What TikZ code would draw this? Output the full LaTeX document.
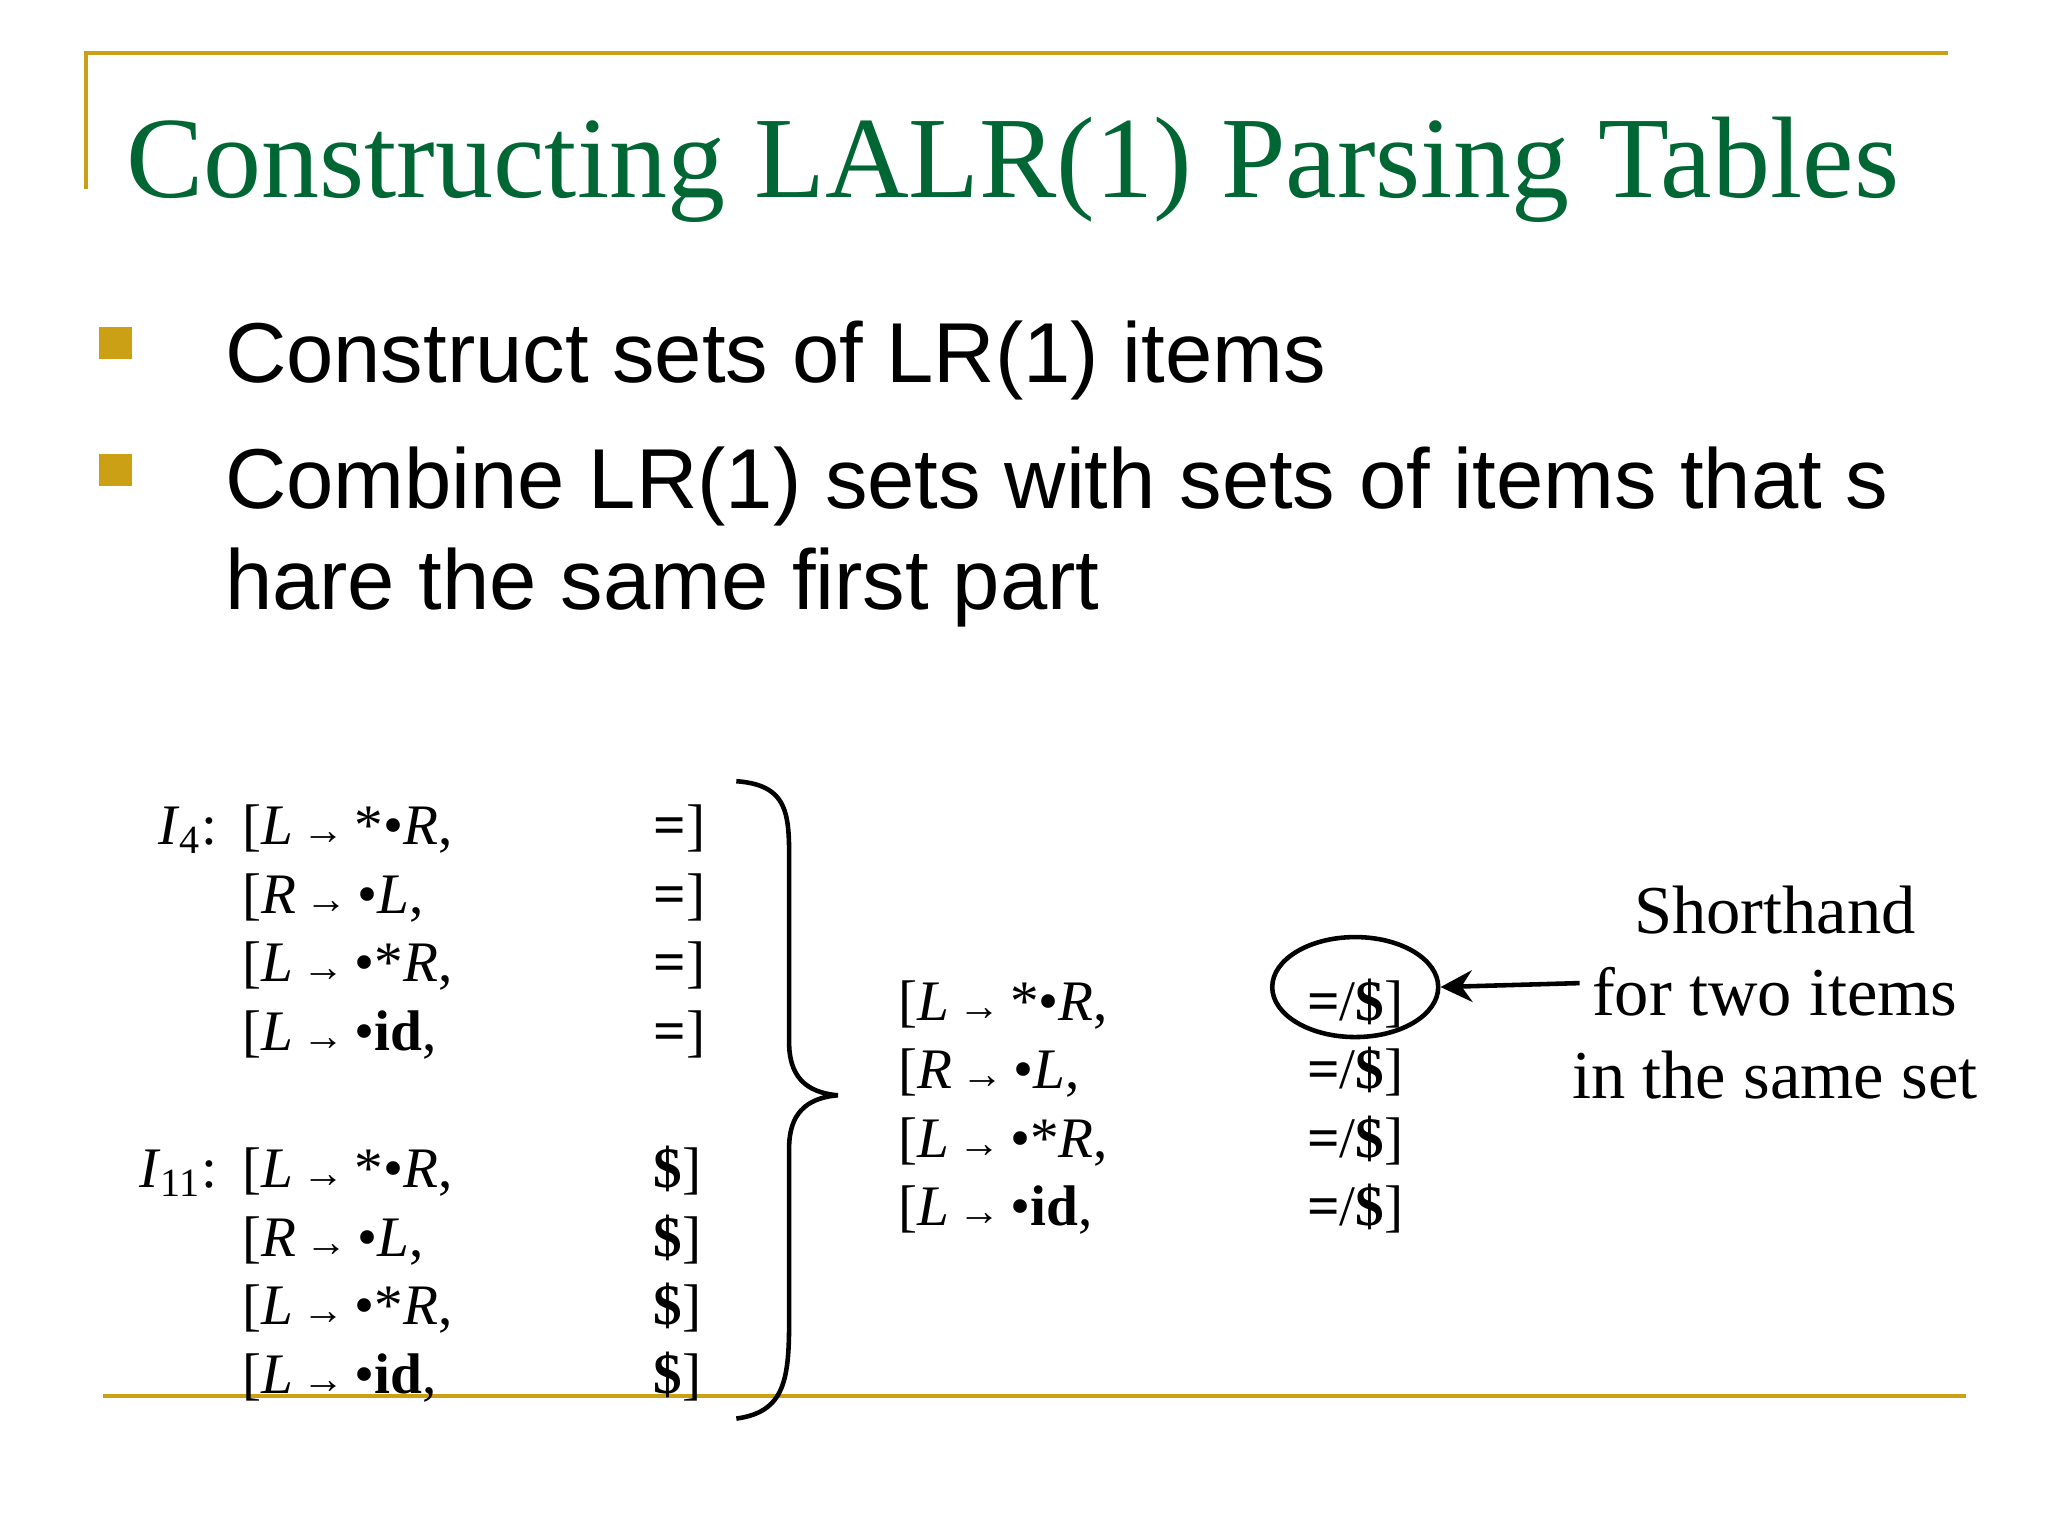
\documentclass[tikz,border=0pt]{standalone}
\usepackage{fontspec}
\setmainfont{Liberation Serif}
\setsansfont{Liberation Sans}
\usetikzlibrary{arrows.meta,shapes.geometric}
\definecolor{gold}{RGB}{204,160,20}
\definecolor{titlegreen}{RGB}{0,102,51}
\tikzset{
  it/.style={anchor=base west,inner sep=0pt,font=\fontsize{16.3}{18}\selectfont},
  bul/.style={anchor=base west,inner sep=0pt,font=\sffamily\fontsize{24.2}{28}\selectfont},
  rule/.style={gold,line width=1.2pt}
}
\newcommand{\ar}{\,{\large →}\,}
\begin{document}
\begin{tikzpicture}[x=0.013196cm,y=-0.013196cm]
\useasboundingbox (0,0) rectangle (1552,1164);
\draw[rule] (65,143) -- (65,40) -- (1476,40);
\draw[rule] (78,1058) -- (1490,1058);
\node[anchor=base west,inner sep=0pt,text=titlegreen,font=\fontsize{33}{38}\selectfont] (title) at (95,150) {Constructing LALR(1) Parsing Tables};
\fill[gold] (75,248) rectangle (100,272);
\fill[gold] (75,344) rectangle (100,368);
\node[bul] (b1) at (170,290) {Construct sets of LR(1) items};
\node[bul] (b2) at (170,385) {Combine LR(1) sets with sets of items that s};
\node[bul] (b3) at (170,462) {hare the same first part};
% I4
\node[it,anchor=base east] (i4) at (165,640) {\textit{I}\textsubscript{4}:};
\node[it] (a1) at (183,640) {[\textit{L}\ar*•\textit{R},};
\node[it] (a2) at (183,692) {[\textit{R}\ar•\textit{L},};
\node[it] (a3) at (183,744) {[\textit{L}\ar•*\textit{R},};
\node[it] (a4) at (183,796) {[\textit{L}\ar•\textbf{id},};
\foreach \y/\n in {640/1,692/2,744/3,796/4}{\node[it] (la\n) at (495,\y) {\textbf{=}]};}
\node[it,anchor=base east] (i11) at (165,900) {\textit{I}\textsubscript{11}:};
\node[it] (c1) at (183,900) {[\textit{L}\ar*•\textit{R},};
\node[it] (c2) at (183,952) {[\textit{R}\ar•\textit{L},};
\node[it] (c3) at (183,1004) {[\textit{L}\ar•*\textit{R},};
\node[it] (c4) at (183,1056) {[\textit{L}\ar•\textbf{id},};
\foreach \y/\n in {900/1,952/2,1004/3,1056/4}{\node[it] (lc\n) at (495,\y) {\textbf{\$}]};}
% brace
\draw[line width=1.3pt] (558,592) .. controls (600,595) and (598,620) .. (598,660)
  -- (598,790) .. controls (598,815) and (610,828) .. (635,830)
  .. controls (610,832) and (598,845) .. (598,870)
  -- (598,1000) .. controls (598,1045) and (595,1070) .. (558,1075);
% merged
\node[it] (m1) at (680,773) {[\textit{L}\ar*•\textit{R},};
\node[it] (m2) at (680,825) {[\textit{R}\ar•\textit{L},};
\node[it] (m3) at (680,877) {[\textit{L}\ar•*\textit{R},};
\node[it] (m4) at (680,929) {[\textit{L}\ar•\textbf{id},};
\foreach \y/\n in {773/1,825/2,877/3,929/4}{\node[it] (lm\n) at (990,\y) {\textbf{=}/\textbf{\$}]};}
\node[draw,ellipse,line width=1.3pt,minimum width=1.66cm,minimum height=1.0cm,inner sep=0pt] (circ) at (1027,748) {};
\node[align=center,inner sep=0pt,font=\fontsize{19.5}{23.5}\selectfont] (sh) at (1345,752) {Shorthand\\for two items\\in the same set};
\coordinate (astart) at (1197,745);
\draw[line width=1.3pt,-{Stealth[length=9pt,width=9pt,inset=3pt]}] (astart) -- (circ.east);
\end{tikzpicture}
\end{document}
